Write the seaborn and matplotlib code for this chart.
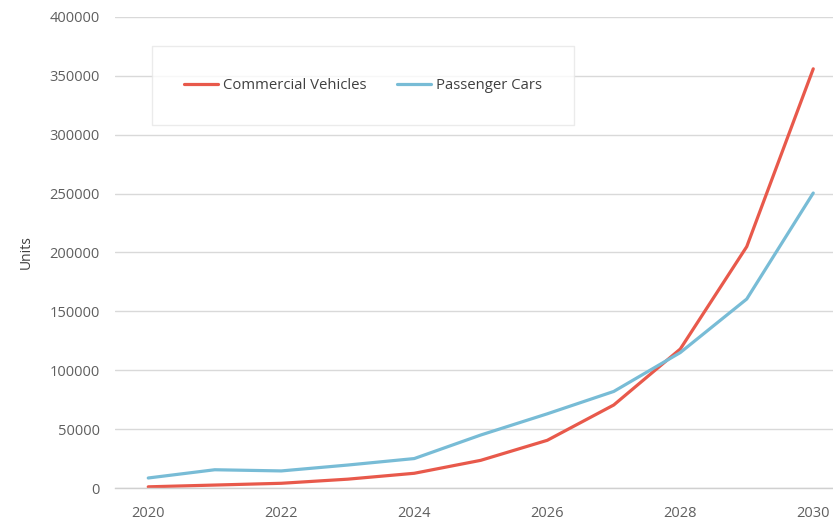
import numpy as np
import pandas as pd
import matplotlib
matplotlib.use('Agg')
import matplotlib.pyplot as plt
import seaborn as sns

# Data
years = [2020, 2021, 2022, 2023, 2024, 2025, 2026, 2027, 2028, 2029, 2030]
commercial = [1000, 2500, 4000, 7500, 12500, 23500, 40500, 70500, 118000, 205000, 356000]
passenger = [8500, 15500, 14500, 19500, 25000, 45000, 63000, 82000, 115000, 160500, 250500]

series_names = ['Commercial Vehicles', 'Passenger Cars']
palette = {'Commercial Vehicles': '#E8594B', 'Passenger Cars': '#78BCD6'}

df = pd.DataFrame({
    'Year': years * 2,
    'Units': commercial + passenger,
    'Series': [series_names[0]] * len(years) + [series_names[1]] * len(years),
})

sns.set_theme(style='white')
plt.rcParams['font.family'] = ['Open Sans', 'DejaVu Sans']

fig = plt.figure(figsize=(8.33, 5.21), dpi=100)
# plot area runs past the right edge of the image, as in the reference
ax = fig.add_axes([115 / 833, 1 - 488 / 521, 731.5 / 833, 471 / 521])

sns.lineplot(data=df, x='Year', y='Units', hue='Series', palette=palette,
             linewidth=2.3, ax=ax, legend=True)

ax.set_xlim(2019.5, 2030.5)
ax.set_ylim(0, 400000)
ax.set_yticks(np.arange(0, 400001, 50000))
ax.set_yticklabels([str(v) for v in range(0, 400001, 50000)])
ax.set_xticks(years[::2])
ax.set_xticks(np.arange(2019.5, 2031, 1), minor=True)

ax.grid(axis='y', color='#d9d9d9', linewidth=1)
ax.set_axisbelow(True)
for side in ['top', 'right', 'left']:
    ax.spines[side].set_visible(False)
ax.spines['bottom'].set_color('#d0d0d0')
ax.spines['bottom'].set_linewidth(1)

ax.tick_params(axis='y', length=0, pad=11, labelsize=10.5, labelcolor='#5f5f5f')
ax.tick_params(axis='x', which='major', length=0, pad=13, labelsize=10.5, labelcolor='#5f5f5f')
ax.tick_params(axis='x', which='minor', length=5, width=1, color='#d0d0d0', direction='out')

ax.set_xlabel('')
ax.set_ylabel('Units', fontsize=10, color='#404040', labelpad=11)

handles, labels = ax.get_legend_handles_labels()
leg = ax.legend(handles, labels, loc='upper left', ncol=2,
                bbox_to_anchor=(0.0506, 0.938),
                frameon=True, fancybox=False, fontsize=10.75, handlelength=2.3,
                handletextpad=0.33, columnspacing=2.0, borderpad=2.15,
                borderaxespad=0)
leg.get_frame().set_edgecolor('#e6e6e6')
leg.get_frame().set_linewidth(1)
for t in leg.get_texts():
    t.set_color('#404040')

fig.savefig('out.png', dpi=100)
